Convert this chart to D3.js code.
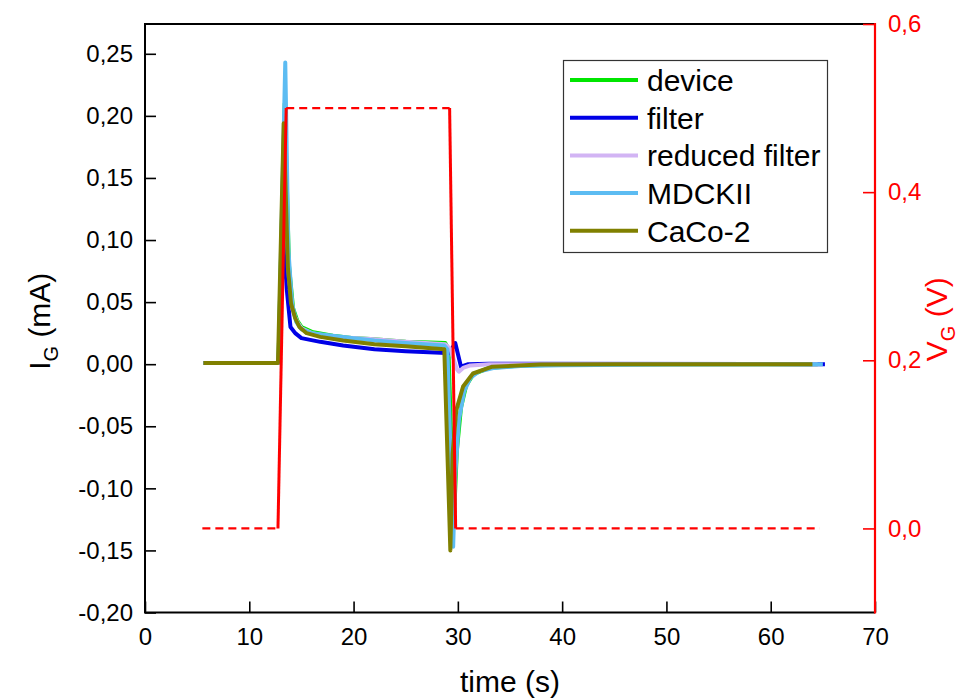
<!DOCTYPE html>
<html>
<head>
<meta charset="utf-8">
<script src="https://cdn.jsdelivr.net/npm/d3@7"></script>
<style>
  body { margin: 0; background: #fff; }
  svg { font-family: "Liberation Sans", Arial, sans-serif; }
</style>
</head>
<body>
<svg id="chart" width="963" height="698"></svg>
<script>
'use strict';

// current series, [time (s), I_G (mA)]
const device = [
	[5.6, 0.001], [12.8, 0.001], [13.4, 0.21], [13.8, 0.08], [14.2, 0.045], [14.6, 0.035],
	[15, 0.03], [16, 0.026], [18, 0.023], [20, 0.021], [22, 0.02], [25, 0.018], [28.8, 0.017],
	[29.1, 0.012], [29.6, -0.13], [29.9, -0.07], [30.3, -0.035], [30.8, -0.017], [31.5, -0.008],
	[33, -0.003], [36, -0.001], [42, 0], [64.5, 0]
];
const filter = [
	[5.6, 0.001], [12.8, 0.001], [13.3, 0.1], [13.6, 0.06], [13.95, 0.03], [14.4, 0.025],
	[15, 0.021], [16.8, 0.018], [19, 0.015], [22, 0.012], [25, 0.0105], [28.9, 0.009],
	[29.2, 0.009], [29.75, 0.017], [30.3, -0.002], [31, 0], [33, 0.0003], [65.2, 0]
];
const reducedFilter = [
	[5.6, 0.001], [12.8, 0.001], [13.4, 0.15], [13.8, 0.07], [14.2, 0.042], [14.6, 0.034],
	[15, 0.029], [16, 0.025], [18, 0.022], [20, 0.021], [22, 0.02], [25, 0.018], [28.8, 0.016],
	[29.3, 0.012], [29.9, -0.004], [30.1, -0.006], [30.5, -0.003], [31.2, -0.001], [33, 0], [64.5, 0]
];
const mdckii = [
	[5.6, 0.001], [12.8, 0.001], [13.45, 0.243], [13.75, 0.092], [14.1, 0.049], [14.5, 0.034],
	[15, 0.028], [16, 0.025], [18, 0.023], [20, 0.021], [22, 0.019], [25, 0.017], [28.7, 0.015],
	[29.0, 0.012], [29.55, -0.147], [29.75, -0.09], [30.1, -0.045], [30.6, -0.022], [31.2, -0.011],
	[32, -0.006], [33.5, -0.003], [36, -0.0015], [40, -0.0008], [50, -0.0003], [65, 0]
];
const caco2 = [
	[5.6, 0.001], [12.75, 0.001], [13.3, 0.194], [13.7, 0.078], [14.0, 0.049], [14.4, 0.037],
	[14.8, 0.03], [15.5, 0.025], [16.8, 0.022], [19, 0.019], [22, 0.016], [25, 0.0145],
	[28.7, 0.012], [29.28, -0.15], [29.5, -0.072], [29.85, -0.037], [30.5, -0.018],
	[31.45, -0.0075], [33.3, -0.002], [37.9, -0.0003], [45, 0], [64, 0]
];

// gate voltage, [time (s), V_G (V)]
const voltage = [[5.5, 0], [12.75, 0], [13.54, 0.5], [29.21, 0.5], [29.79, 0], [64.7, 0]];

const seriesNames = ['device', 'filter', 'reduced filter', 'MDCKII', 'CaCo-2'];
const seriesData = [device, filter, reducedFilter, mdckii, caco2];
const seriesColors = ['#00e600', '#0000e6', '#d2b4f4', '#5cbcf2', '#808000'];

const xTicks = [0, 10, 20, 30, 40, 50, 60, 70];
const yTicks = [-0.2, -0.15, -0.1, -0.05, 0, 0.05, 0.1, 0.15, 0.2, 0.25];
const vTicks = [0, 0.2, 0.4, 0.6];

const locale = d3.formatLocale({decimal: ',', thousands: '.', grouping: [3], currency: ['', ''], minus: '-'});
const fmt = locale.format('.2f');
const fmtV = locale.format('.1f');

const svg = d3.select('#chart');
const L = 145, R = 875, T = 24, B = 612.5;
const tickFont = 24;

const x = d3.scaleLinear().domain([0, 70]).range([L, R]);
const y = d3.scaleLinear().domain([-0.2, 0.274]).range([B, T]);
const yV = d3.scaleLinear().domain([-0.1, 0.6]).range([B, T]);

const line = d3.line().x(d => x(d[0])).y(d => y(d[1]));
const lineV = d3.line().x(d => x(d[0])).y(d => yV(d[1]));

// current traces
svg.append('g')
	.selectAll('path')
	.data(seriesData)
	.join('path')
	.attr('d', line)
	.attr('fill', 'none')
	.attr('stroke', (d, i) => seriesColors[i])
	.attr('stroke-width', 4)
	.attr('stroke-linejoin', 'round')
;

// voltage: flat parts dashed, ramps solid
svg.append('g')
	.selectAll('path')
	.data(d3.pairs(voltage))
	.join('path')
	.attr('d', lineV)
	.attr('fill', 'none')
	.attr('stroke', '#ff0000')
	.attr('stroke-width', d => d[0][1] === d[1][1] ? 2.2 : 3)
	.attr('stroke-dasharray', d => d[0][1] === d[1][1] ? '8,5' : null)
;

// frame
svg.append('path')
	.attr('d', `M${L},${T}H${R}`)
	.attr('stroke', '#000').attr('stroke-width', 2);

// bottom axis
const xAxis = svg.append('g').attr('transform', `translate(0,${B})`);
xAxis.call(d3.axisBottom(x).tickValues(d3.range(5, 70, 10)).tickSize(-6).tickFormat(''));
xAxis.call(d3.axisBottom(x).tickValues(xTicks).tickSize(-11).tickFormat(d => d).tickPadding(15));

// left axis
const yAxis = svg.append('g').attr('transform', `translate(${L},0)`);
yAxis.call(d3.axisLeft(y).tickValues(d3.range(-0.175, 0.26, 0.05)).tickSize(-6).tickFormat(''));
yAxis.call(d3.axisLeft(y).tickValues(yTicks).tickSize(-11).tickFormat(fmt).tickPadding(12));

// right axis
const vAxis = svg.append('g').attr('transform', `translate(${R},0)`);
vAxis.call(d3.axisRight(yV).tickValues([-0.1, 0.1, 0.3, 0.5]).tickSize(-6).tickFormat(''));
vAxis.call(d3.axisRight(yV).tickValues(vTicks).tickSize(-12).tickFormat(fmtV).tickPadding(13));

[xAxis, yAxis, vAxis].forEach(g => {
	g.select('.domain').remove();
	g.selectAll('.tick line').attr('stroke-width', 1.6);
	g.selectAll('text').attr('font-size', tickFont).attr('font-family', '"Liberation Sans", Arial, sans-serif');
});
vAxis.selectAll('.tick line').attr('stroke', '#ff0000');
vAxis.selectAll('text').attr('fill', '#ff0000');

svg.append('path').attr('d', `M${L},${T - 1}V${B}H${R}`)
	.attr('fill', 'none').attr('stroke', '#000').attr('stroke-width', 2);
svg.append('path').attr('d', `M${R},${T - 1}V${B + 1}`)
	.attr('stroke', '#ff0000').attr('stroke-width', 2.2);

// axis titles
svg.append('text')
	.attr('x', (L + R) / 2).attr('y', 692)
	.attr('text-anchor', 'middle').attr('font-size', 30)
	.text('time (s)');

const yTitle = svg.append('text')
	.attr('transform', `translate(50,${(T + B) / 2 + 3}) rotate(-90)`)
	.attr('text-anchor', 'middle').attr('font-size', 30);
yTitle.append('tspan').text('I');
yTitle.append('tspan').attr('font-size', 20).attr('dy', 8).text('G');
yTitle.append('tspan').attr('dy', -8).text(' (mA)');

const vTitle = svg.append('text')
	.attr('transform', `translate(947,${(T + B) / 2 + 1}) rotate(-90)`)
	.attr('text-anchor', 'middle').attr('font-size', 30).attr('fill', '#ff0000');
vTitle.append('tspan').text('V');
vTitle.append('tspan').attr('font-size', 20).attr('dy', 8).text('G');
vTitle.append('tspan').attr('dy', -8).text(' (V)');

// legend
const legend = svg.append('g');
legend.append('rect')
	.attr('x', 563.5).attr('y', 60.5).attr('width', 264).attr('height', 192)
	.attr('fill', '#fff').attr('stroke', '#333').attr('stroke-width', 1.2);

const $items = legend.selectAll('g.item')
	.data(seriesNames)
	.join('g')
	.attr('class', 'item')
	.attr('transform', (d, i) => `translate(0,${80 + i * 37.7})`)
;
$items.append('line')
	.attr('x1', 570).attr('x2', 638)
	.attr('stroke', (d, i) => seriesColors[i])
	.attr('stroke-width', 4);
$items.append('text')
	.attr('x', 647).attr('dy', '0.36em')
	.attr('font-size', 30)
	.text(d => d);
</script>
</body>
</html>
